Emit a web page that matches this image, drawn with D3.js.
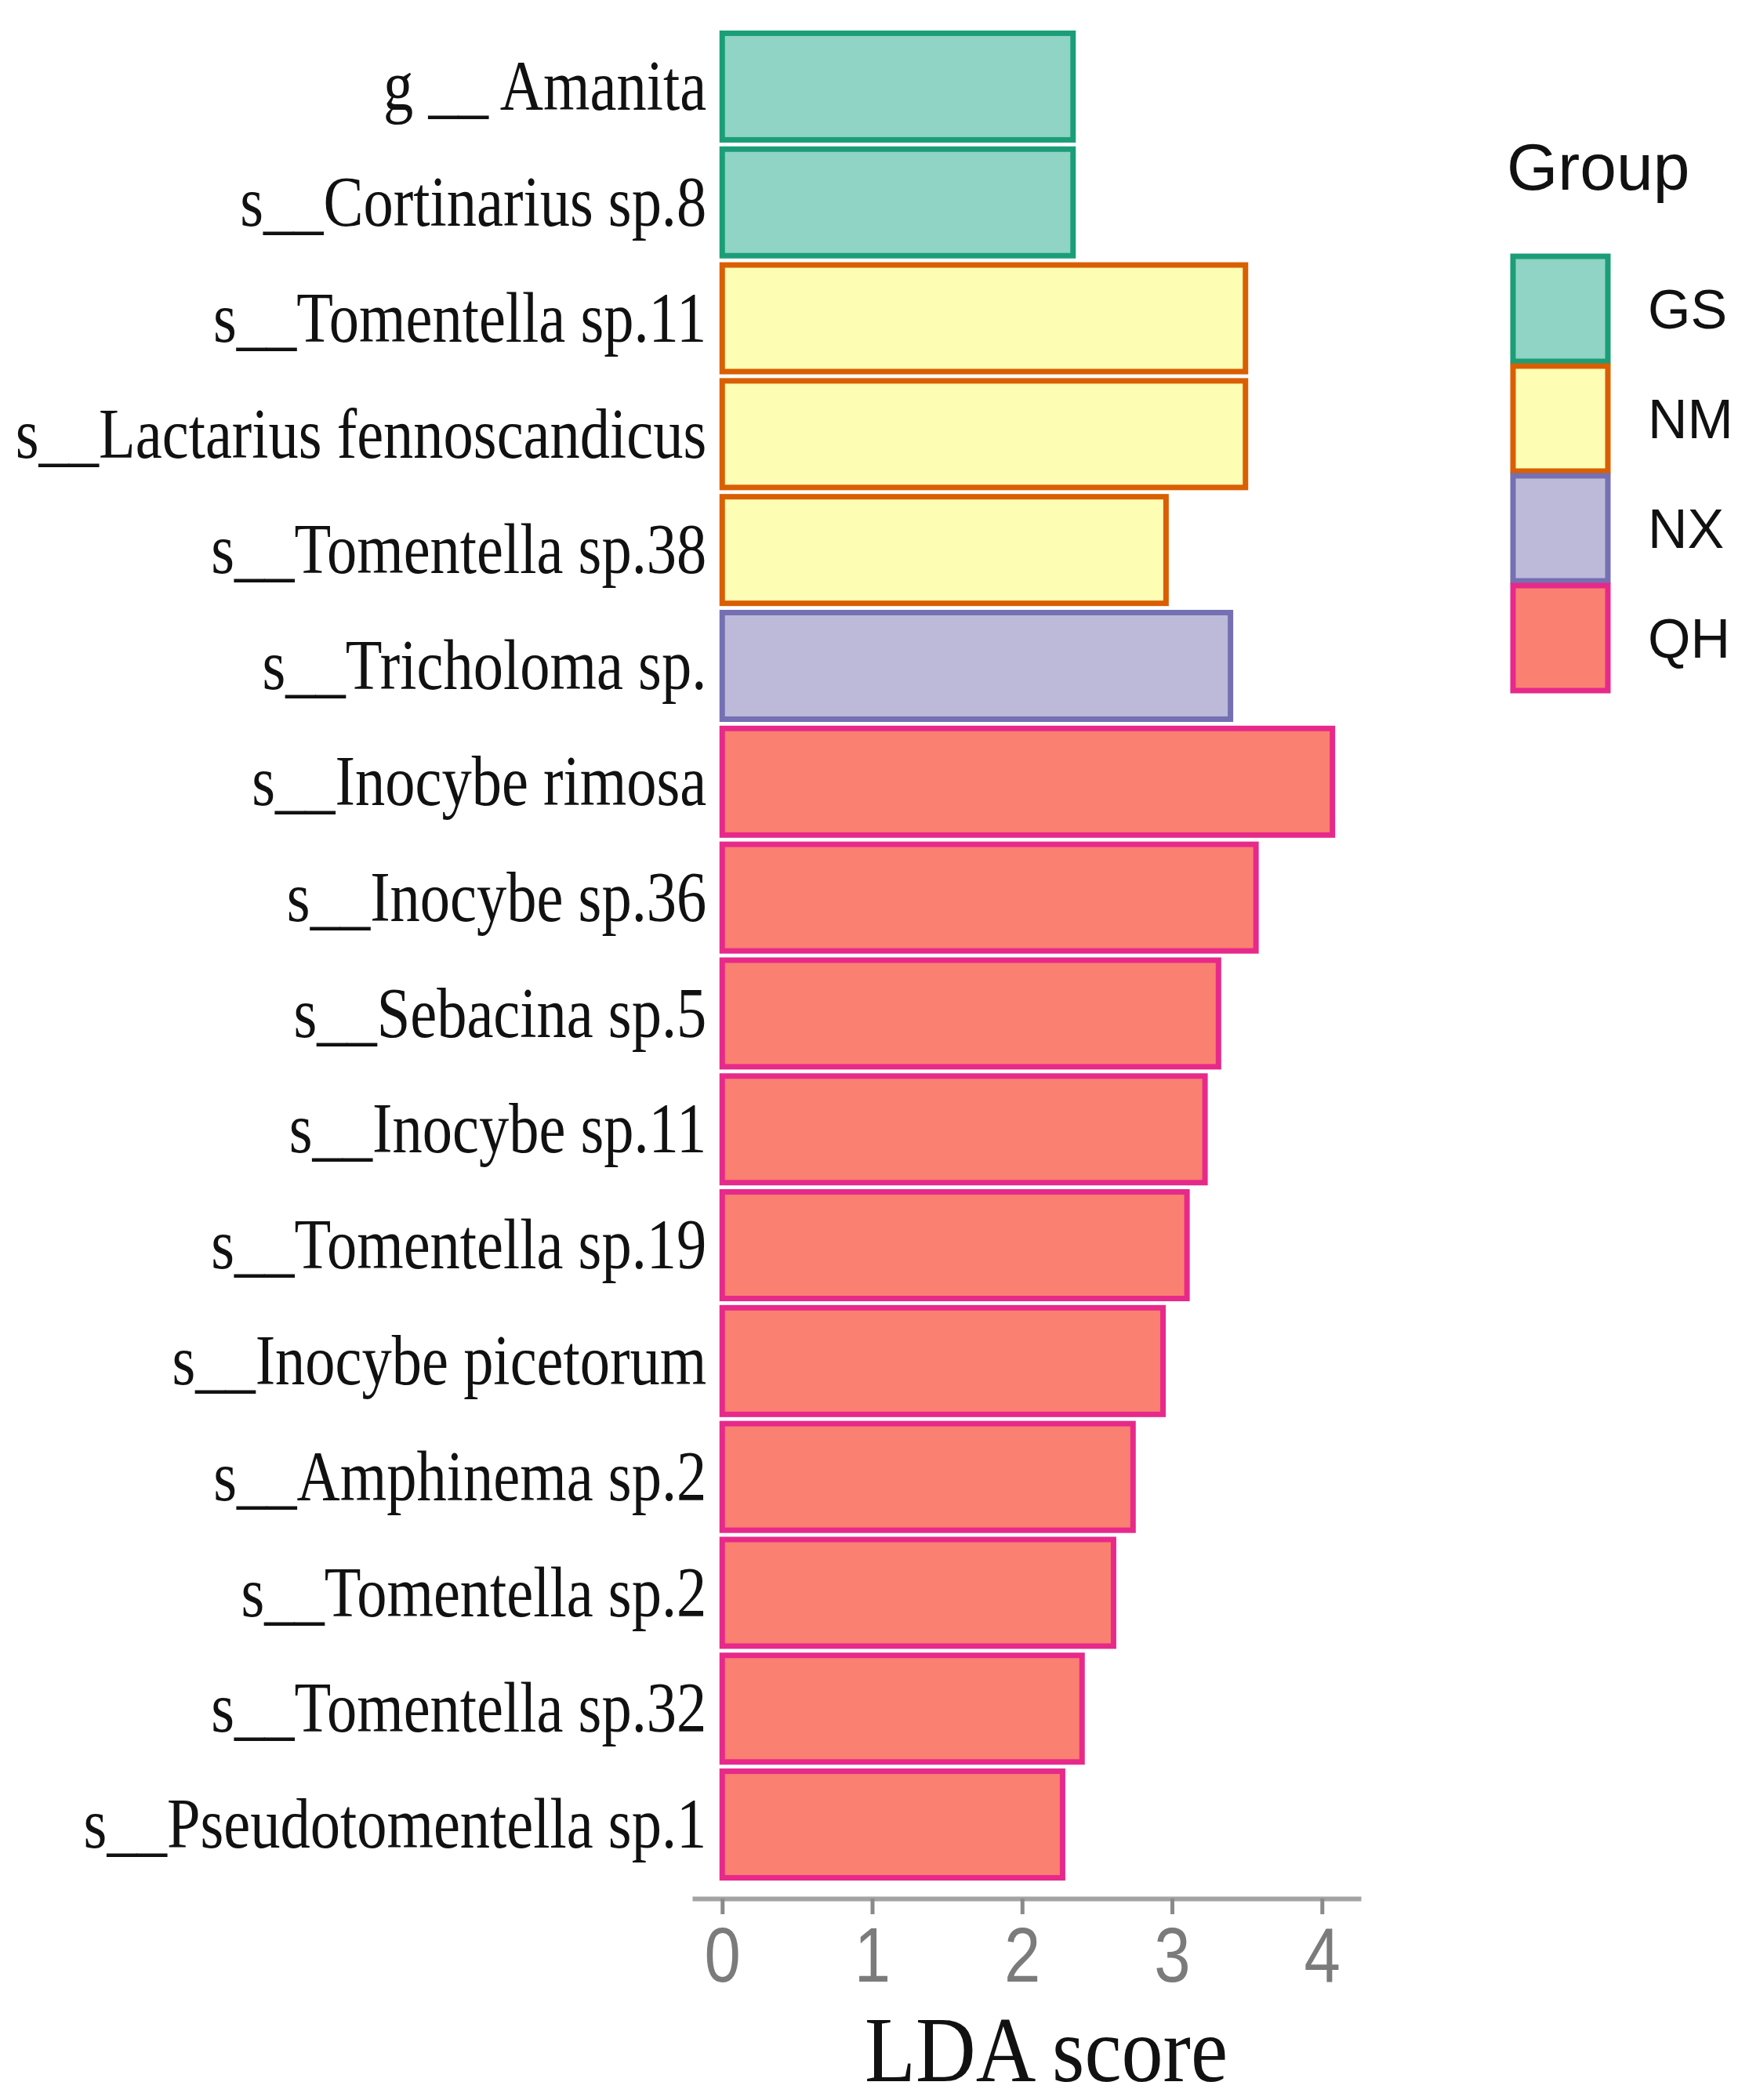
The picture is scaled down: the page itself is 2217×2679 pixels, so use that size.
<!DOCTYPE html>
<html>
<head>
<meta charset="utf-8">
<script src="https://cdn.jsdelivr.net/npm/d3@7"></script>
<style>
  html, body { margin: 0; padding: 0; background: #ffffff; }
  svg { display: block; }
</style>
</head>
<body>
<svg id="chart" width="2217" height="2679"></svg>
<script>
// ---- data ----
const taxa = [
  "g __ Amanita",
  "s__Cortinarius sp.8",
  "s__Tomentella sp.11",
  "s__Lactarius fennoscandicus",
  "s__Tomentella sp.38",
  "s__Tricholoma sp.",
  "s__Inocybe rimosa",
  "s__Inocybe sp.36",
  "s__Sebacina sp.5",
  "s__Inocybe sp.11",
  "s__Tomentella sp.19",
  "s__Inocybe picetorum",
  "s__Amphinema sp.2",
  "s__Tomentella sp.2",
  "s__Tomentella sp.32",
  "s__Pseudotomentella sp.1"
];
const ldaScores = [2.34, 2.34, 3.49, 3.49, 2.96, 3.39, 4.07, 3.56, 3.31, 3.22, 3.10, 2.94, 2.74, 2.61, 2.40, 2.27];
const taxonGroups = ["GS","GS","NM","NM","NM","NX","QH","QH","QH","QH","QH","QH","QH","QH","QH","QH"];
const groupNames = ["GS", "NM", "NX", "QH"];
const groupFills = ["#8fd4c5", "#fdfdb4", "#bdbad9", "#fa8072"];
const groupStrokes = ["#1b9e77", "#d95f02", "#7570b3", "#e7298a"];
const xTicks = [0, 1, 2, 3, 4];
const xTitle = "LDA score";
const legendTitle = "Group";

const rows = taxa.map((t, i) => ({ taxon: t, score: ldaScores[i], group: taxonGroups[i] }));

// ---- layout ----
const svg = d3.select("#chart");

const x = d3.scaleLinear().domain([-0.2, 4.26]).range([883, 1736]);
const y = d3.scaleBand().domain(taxa).range([38, 2400]).paddingInner(0.08).paddingOuter(0.03);
const fill = d3.scaleOrdinal().domain(groupNames).range(groupFills);
const stroke = d3.scaleOrdinal().domain(groupNames).range(groupStrokes);

// bars
svg.append("g").selectAll("rect")
  .data(rows)
  .join("rect")
  .attr("x", x(0))
  .attr("y", d => y(d.taxon))
  .attr("width", d => x(d.score) - x(0))
  .attr("height", y.bandwidth())
  .attr("fill", d => fill(d.group))
  .attr("stroke", d => stroke(d.group))
  .attr("stroke-width", 7);

// taxon labels
svg.append("g").selectAll("text")
  .data(rows)
  .join("text")
  .attr("transform", d => `translate(${x(0) - 20},${y(d.taxon) + y.bandwidth() / 2}) scale(0.85,1)`)
  .attr("text-anchor", "end")
  .attr("dy", "0.33em")
  .attr("font-family", "'Liberation Serif', 'Times New Roman', serif")
  .attr("font-size", 90)
  .attr("fill", "#111")
  .text(d => d.taxon);

// x axis
const axisY = 2422;
const ax = svg.append("g")
  .attr("transform", `translate(0,${axisY})`)
  .call(d3.axisBottom(x).tickValues(xTicks).tickSize(20).tickSizeOuter(0).tickPadding(16).tickFormat(d3.format("d")));
ax.select(".domain").attr("stroke", "#a3a3a3").attr("stroke-width", 6);
ax.selectAll(".tick line").attr("stroke", "#8a8a8a").attr("stroke-width", 5);
ax.selectAll(".tick text")
  .attr("fill", "#7b7b7b")
  .attr("font-family", "'Liberation Sans', Arial, sans-serif")
  .attr("font-size", 98)
  .attr("transform", "scale(0.85,1)")
  .attr("x", 0);
// keep tick labels centred on ticks after condensing
ax.selectAll(".tick").each(function (d) {
  d3.select(this).select("text").attr("transform", "scale(0.85,1)");
});

// x title
svg.append("text")
  .attr("transform", `translate(${(x(0) + x(4.26)) / 2 + 6},2655) scale(0.9,1)`)
  .attr("text-anchor", "middle")
  .attr("font-family", "'Liberation Serif', 'Times New Roman', serif")
  .attr("font-size", 118)
  .attr("fill", "#111")
  .text(xTitle);

// legend
const legend = svg.append("g");
legend.append("text")
  .attr("x", 1922)
  .attr("y", 242)
  .attr("font-family", "'Liberation Sans', Arial, sans-serif")
  .attr("font-size", 84)
  .attr("fill", "#111")
  .text(legendTitle);

const keyY = d3.scaleBand().domain(groupNames).range([324, 884]);
const keys = legend.selectAll("g.key")
  .data(groupNames)
  .join("g")
  .attr("class", "key");
keys.append("rect")
  .attr("x", 1930)
  .attr("y", d => keyY(d) + 3)
  .attr("width", 121)
  .attr("height", keyY.bandwidth() - 6)
  .attr("fill", d => fill(d))
  .attr("stroke", d => stroke(d))
  .attr("stroke-width", 7);
keys.append("text")
  .attr("x", 2102)
  .attr("y", d => keyY(d) + keyY.bandwidth() / 2)
  .attr("dy", "0.36em")
  .attr("font-family", "'Liberation Sans', Arial, sans-serif")
  .attr("font-size", 70)
  .attr("fill", "#111")
  .text(d => d);
</script>
</body>
</html>
